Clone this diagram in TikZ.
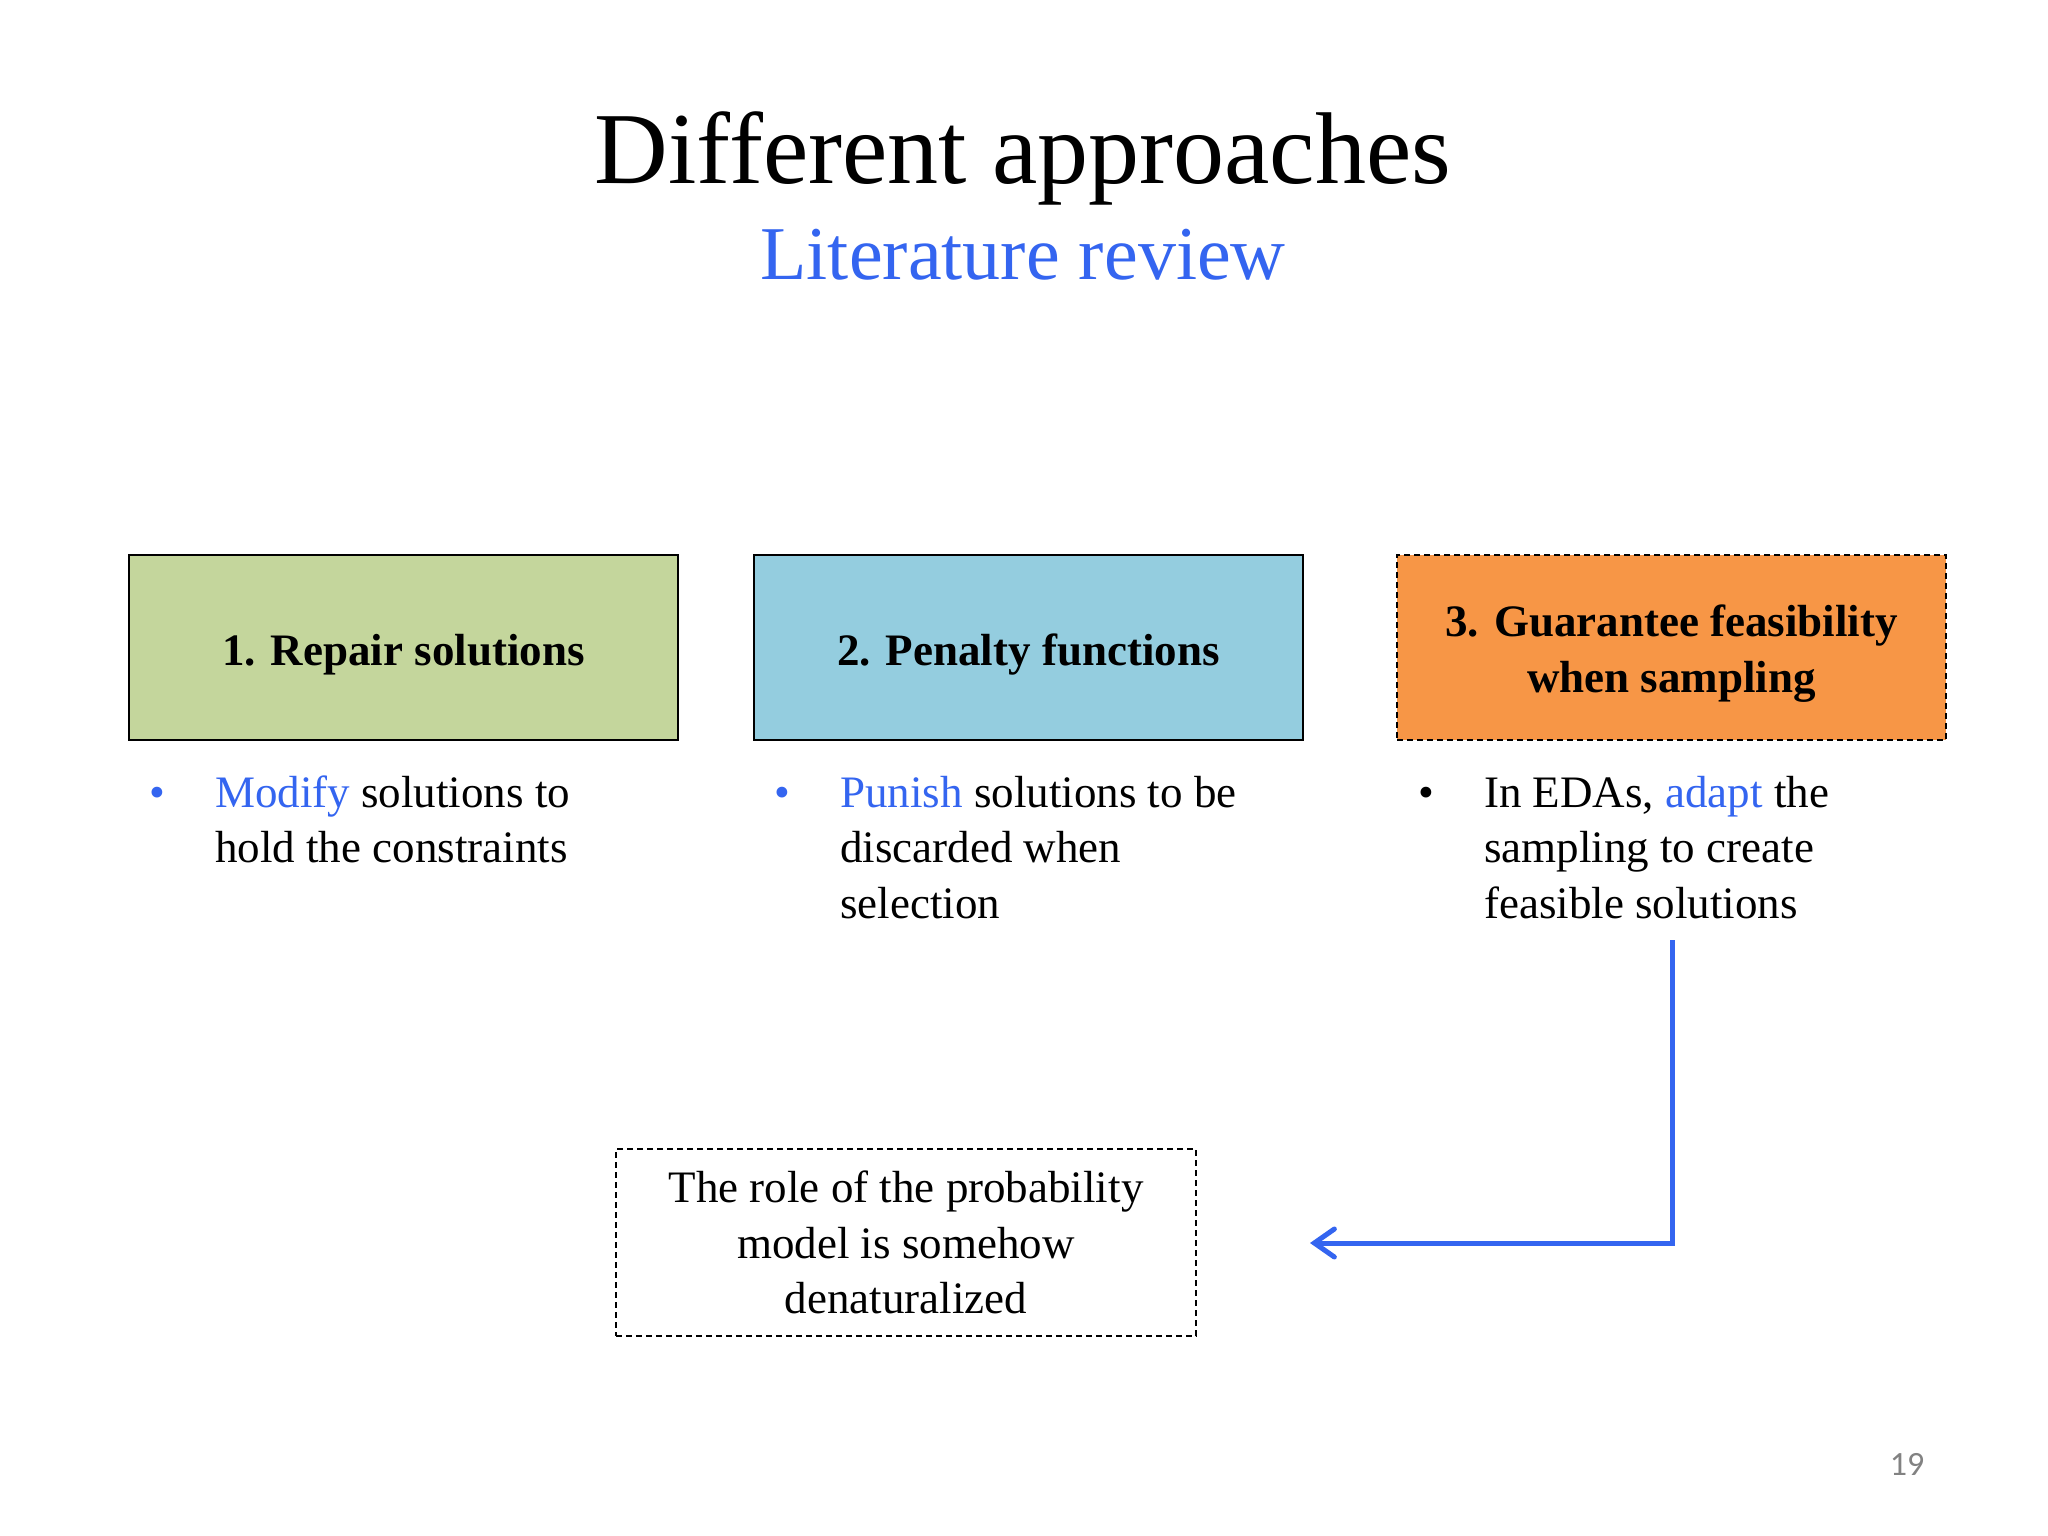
\documentclass[tikz,border=0pt]{standalone}
\usepackage{fontspec}
\setmainfont{Liberation Serif}
\newfontfamily\pagefont{Carlito}
\usetikzlibrary{arrows.meta}
\definecolor{litblue}{RGB}{52,101,240}
\definecolor{boxgreen}{RGB}{196,214,156}
\definecolor{boxblue}{RGB}{148,205,223}
\definecolor{boxorange}{RGB}{247,150,70}
\definecolor{pagegray}{RGB}{130,130,130}
\tikzset{
  headbox/.style={draw=black, line width=2pt, minimum width=549pt, minimum height=185pt, inner sep=0pt, align=center, font=\fontsize{45}{56}\selectfont\bfseries},
  dashbox/.style={dash pattern=on 6pt off 4pt},
  bodytext/.style={anchor=base west, inner sep=0pt, align=left, font=\fontsize{45}{55.5}\selectfont},
  bulletmark/.style={anchor=base, inner sep=0pt, font=\fontsize{45}{55.5}\selectfont},
  flowarrow/.style={draw=litblue, line width=5pt, -{Straight Barb[length=20pt,width=28pt,line cap=round]}}
}
\begin{document}
\begin{tikzpicture}[x=1pt,y=-1pt]
\useasboundingbox[fill=white] (0,0) rectangle (2048,1536);
\node[anchor=base, inner sep=0pt, font=\fontsize{102}{120}\selectfont] (title) at (1023,183) {Different approaches};
\node[anchor=base, inner sep=0pt, text=litblue, font=\fontsize{76}{90}\selectfont] (subtitle) at (1023,279) {Literature review};

\node[headbox, fill=boxgreen, text height=46pt] (box1) at (403.5,647.5) {1. Repair solutions};
\node[headbox, fill=boxblue, text height=46pt] (box2) at (1028.5,647.5) {2. Penalty functions};
\node[headbox, fill=boxorange, dashbox, text height=100pt] (box3) at (1671.5,647.5) {3. Guarantee feasibility\\when sampling};

\node[bulletmark, text=litblue] (bul1) at (157,807) {•};
\node[bodytext] (txt1) at (215,862.5) {\textcolor{litblue}{Modify} solutions to\\hold the constraints};
\node[bulletmark, text=litblue] (bul2) at (782,807) {•};
\node[bodytext] (txt2) at (840,918) {\textcolor{litblue}{Punish} solutions to be\\discarded when\\selection};
\node[bulletmark] (bul3) at (1426,807) {•};
\node[bodytext] (txt3) at (1484,918) {In EDAs, \textcolor{litblue}{adapt} the\\sampling to create\\feasible solutions};

\node[draw=black, line width=2pt, dashbox, minimum width=580pt, minimum height=187pt, inner sep=0pt, align=center, font=\fontsize{45}{55.5}\selectfont] (role) at (906,1242.5) {The role of the probability\\model is somehow\\denaturalized};

\coordinate (arrstart) at (1672,940);
\coordinate (arrend) at (1310,1243);
\draw[flowarrow] (arrstart) |- (arrend);

\node[anchor=base, inner sep=0pt, text=pagegray, font=\pagefont\fontsize{34}{40}\selectfont] (pagenum) at (1907,1475) {19};
\end{tikzpicture}
\end{document}
